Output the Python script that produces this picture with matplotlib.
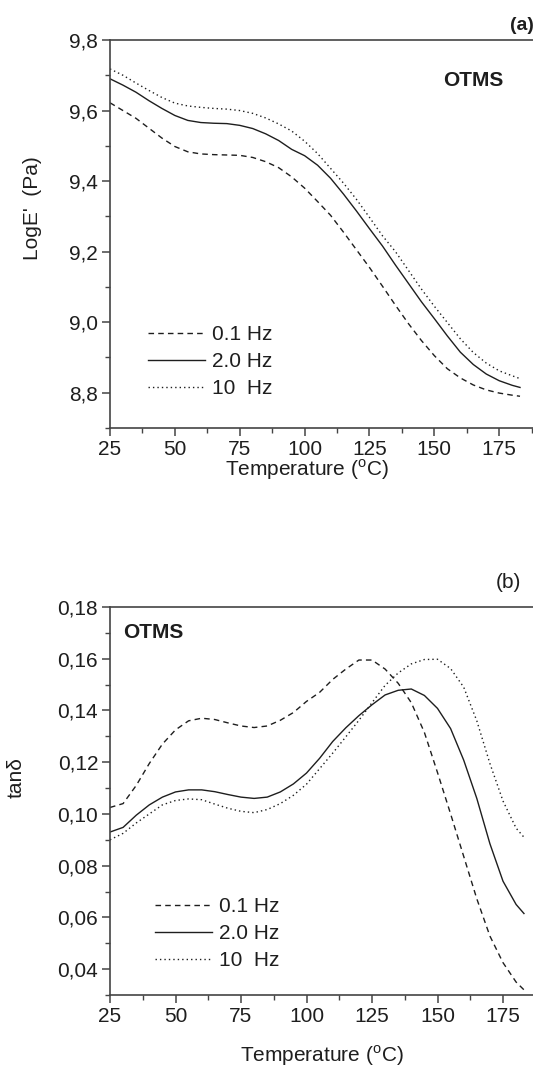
import numpy as np
import matplotlib
matplotlib.use('Agg')
import matplotlib.pyplot as plt
from matplotlib.ticker import MultipleLocator, FuncFormatter

plt.rcParams['font.family'] = ['Liberation Sans', 'DejaVu Sans']
plt.rcParams['mathtext.fontset'] = 'custom'
plt.rcParams['mathtext.rm'] = 'Liberation Sans'

# temperature grid (deg C)
temp = [25, 30, 35, 40, 45, 50, 55, 60, 65, 70, 75, 80, 85, 90, 95, 100,
        105, 110, 115, 120, 125, 130, 135, 140, 145, 150, 155, 160, 165,
        170, 175, 180, 183]

# (a) log E'
loge_01 = [9.622, 9.600, 9.578, 9.550, 9.522, 9.498, 9.483, 9.477, 9.475,
           9.474, 9.473, 9.467, 9.455, 9.438, 9.412, 9.380, 9.342, 9.303,
           9.255, 9.205, 9.155, 9.102, 9.048, 8.996, 8.948, 8.905, 8.868,
           8.842, 8.822, 8.808, 8.799, 8.793, 8.790]
loge_20 = [9.690, 9.672, 9.652, 9.628, 9.606, 9.586, 9.572, 9.566, 9.564,
           9.563, 9.558, 9.549, 9.534, 9.515, 9.490, 9.472, 9.445, 9.408,
           9.363, 9.315, 9.265, 9.216, 9.162, 9.110, 9.058, 9.010, 8.961,
           8.915, 8.880, 8.853, 8.834, 8.821, 8.815]
loge_10 = [9.718, 9.700, 9.678, 9.657, 9.637, 9.621, 9.613, 9.609, 9.606,
           9.604, 9.600, 9.592, 9.579, 9.562, 9.542, 9.513, 9.478, 9.436,
           9.394, 9.348, 9.297, 9.245, 9.200, 9.147, 9.094, 9.045, 8.999,
           8.953, 8.914, 8.884, 8.862, 8.848, 8.840]

# (b) tan delta
tan_01 = [0.1025, 0.1040, 0.1110, 0.1195, 0.1270, 0.1325, 0.1360, 0.1370,
          0.1365, 0.1352, 0.1340, 0.1334, 0.1340, 0.1362, 0.1392, 0.1435,
          0.1470, 0.1520, 0.1560, 0.1595, 0.1595, 0.1560, 0.1505, 0.1430,
          0.1315, 0.1160, 0.1000, 0.0836, 0.0672, 0.0528, 0.0425, 0.0350,
          0.0320]
tan_20 = [0.0930, 0.0948, 0.0995, 0.1035, 0.1065, 0.1085, 0.1093, 0.1093,
          0.1086, 0.1075, 0.1065, 0.1060, 0.1065, 0.1085, 0.1116, 0.1158,
          0.1215, 0.1280, 0.1333, 0.1380, 0.1422, 0.1460, 0.1478, 0.1483,
          0.1458, 0.1408, 0.1330, 0.1208, 0.1060, 0.0885, 0.0740, 0.0650,
          0.0615]
tan_10 = [0.0900, 0.0925, 0.0965, 0.1000, 0.1035, 0.1052, 0.1058, 0.1055,
          0.1038, 0.1022, 0.1010, 0.1005, 0.1017, 0.1040, 0.1072, 0.1115,
          0.1175, 0.1235, 0.1298, 0.1362, 0.1430, 0.1497, 0.1545, 0.1580,
          0.1597, 0.1598, 0.1562, 0.1490, 0.1360, 0.1195, 0.1050, 0.0945,
          0.0910]

labels = ['0.1 Hz', '2.0 Hz', '10  Hz']
styles = [(0, (4, 3)), '-', (0, (1, 2.2))]
ink = '#1e1e1e'
fs = 15

W, H = 533, 1068
fig = plt.figure(figsize=(W / 100, H / 100), dpi=100)


def setup(ax, ymin, ymax, ymaj, ymin_step, fmt):
    for s in ('left', 'bottom', 'top'):
        ax.spines[s].set_color('#444444')
        ax.spines[s].set_linewidth(1.2)
    ax.spines['right'].set_visible(False)
    ax.set_ylim(ymin, ymax)
    ax.xaxis.set_major_locator(MultipleLocator(25))
    ax.xaxis.set_minor_locator(MultipleLocator(12.5))
    ax.yaxis.set_major_locator(MultipleLocator(ymaj))
    ax.yaxis.set_minor_locator(MultipleLocator(ymin_step))
    ax.yaxis.set_major_formatter(FuncFormatter(lambda v, p: format(v, fmt).replace('.', ',')))
    ax.tick_params(which='major', direction='out', length=6, width=1.1,
                   color='#444444', labelsize=fs, labelcolor=ink, pad=2.5)
    ax.tick_params(which='minor', direction='out', length=3.5, width=1.0,
                   color='#444444')


# ---- (a)
ax1 = fig.add_axes([110 / W, (H - 428) / H, 433 / W, 388 / H])
for y, ls, lab in zip([loge_01, loge_20, loge_10], styles, labels):
    ax1.plot(temp, y, ls=ls, color=ink, lw=1.0, label=lab)
ax1.set_xlim(25, 25 + 433 / 2.595)
setup(ax1, 8.7, 9.8, 0.2, 0.1, '.1f')
ax1.set_ylabel("LogE'  (Pa)", fontsize=fs, color=ink)
ax1.yaxis.set_label_coords(-0.157, 0.567)
ax1.set_xlabel('Temperature ($^{\\rm o}$C)', fontsize=fs, color=ink)
ax1.xaxis.set_label_coords(0.455, -0.075)
ax1.text(0.838, 0.895, 'OTMS', transform=ax1.transAxes, fontsize=fs,
         fontweight='bold', color=ink, ha='center', va='center')
fig.text(522 / W, 1 - 25 / H, '(a)', fontsize=fs - 1, fontweight='bold',
         color=ink, ha='center', va='center')
ax1.legend(loc='upper left', bbox_to_anchor=(0.088, 0.265), frameon=False,
           fontsize=fs, handlelength=2.75, handletextpad=0.34,
           labelspacing=0.39, borderpad=0, borderaxespad=0, labelcolor=ink)

# ---- (b)
ax2 = fig.add_axes([110 / W, (H - 995) / H, 433 / W, 388 / H])
for y, ls, lab in zip([tan_01, tan_20, tan_10], styles, labels):
    ax2.plot(temp, y, ls=ls, color=ink, lw=1.0, label=lab)
ax2.set_xlim(25, 25 + 433 / 2.62)
setup(ax2, 0.03, 0.18, 0.02, 0.01, '.2f')
ax2.set_ylabel('tan\u03b4', fontsize=fs, color=ink)
ax2.yaxis.set_label_coords(-0.196, 0.56)
ax2.set_xlabel('Temperature ($^{\\rm o}$C)', fontsize=fs, color=ink)
ax2.xaxis.set_label_coords(0.49, -0.124)
ax2.text(0.03, 0.935, 'OTMS', transform=ax2.transAxes, fontsize=fs,
         fontweight='bold', color=ink, ha='left', va='center')
fig.text(508 / W, 1 - 582 / H, '(b)', fontsize=fs, color=ink,
         ha='center', va='center')
ax2.legend(loc='upper left', bbox_to_anchor=(0.104, 0.2526), frameon=False,
           fontsize=fs, handlelength=2.75, handletextpad=0.34,
           labelspacing=0.39, borderpad=0, borderaxespad=0, labelcolor=ink)

fig.savefig('out.png', dpi=100)
